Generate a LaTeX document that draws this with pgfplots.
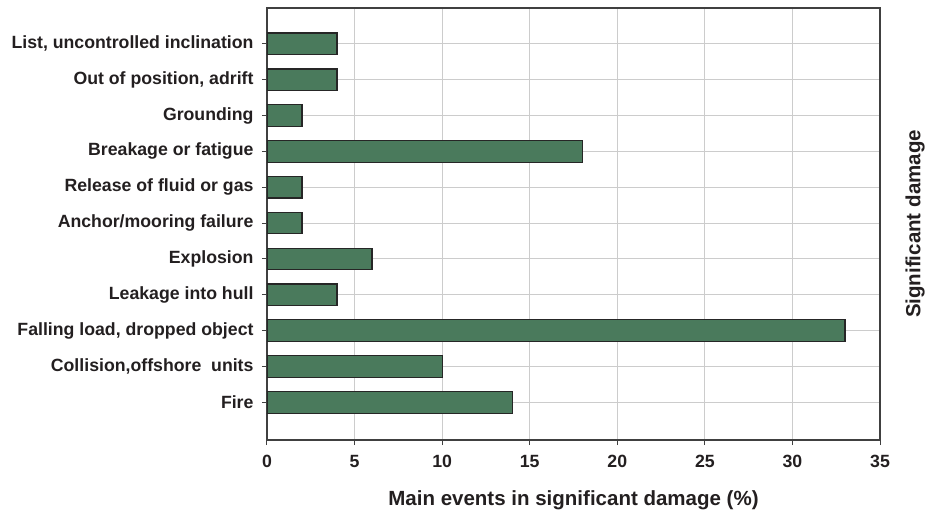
\documentclass[border=0pt]{standalone}
\usepackage{pgfplots}
\pgfplotsset{compat=1.18}
\usepackage{fontspec}
\setmainfont{Liberation Sans}
\definecolor{barfill}{HTML}{4A7A5C}
\definecolor{txt}{HTML}{231F20}
\definecolor{gridc}{HTML}{CCCCCC}
\definecolor{axc}{HTML}{404040}
\begin{document}
\begin{tikzpicture}[x=1pt,y=1pt]
\begin{axis}[
  scale only axis,
  width=613pt, height=432pt,
  xbar, bar width=0.6,
  xmin=0, xmax=35,
  ymin=-1.05, ymax=11,
  xtick={0,5,...,35},
  ytick={0,...,10},
  yticklabels={Fire,{Collision,offshore\ \ units},{Falling load, dropped object},Leakage into hull,Explosion,Anchor/mooring failure,Release of fluid or gas,Breakage or fatigue,Grounding,{Out of position, adrift},{List, uncontrolled inclination}},
  xmajorgrids, ymajorgrids,
  grid style={gridc, line width=1pt},
  axis line style={axc, line width=1.2pt},
  tick style={axc, line width=1pt},
  tick align=outside,
  major tick length=5pt,
  xtick pos=bottom, ytick pos=left,
  /pgf/number format/assume math mode=true,
  ticklabel style={font=\fontsize{17.7}{20}\selectfont\bfseries, text=txt},
  xticklabel style={yshift=-7pt},
  yticklabel style={xshift=-5pt},
  xlabel={Main events in significant damage (\%)},
  xlabel style={font=\fontsize{20.5}{24}\selectfont\bfseries, text=txt, yshift=-16pt},
]
\addplot[fill=barfill, draw=black!85, line width=1.2pt] coordinates {
  (14,0) (10,1) (33,2) (4,3) (6,4) (2,5) (2,6) (18,7) (2,8) (4,9) (4,10)
};
\coordinate (sw) at (rel axis cs:0,0);
\coordinate (re) at (rel axis cs:1,0.5);
\end{axis}
\node[rotate=90, font=\fontsize{20.5}{24}\selectfont\bfseries, text=txt] at ([xshift=35pt]re) {Significant damage};
\path (sw) ++(-267pt,-76pt) rectangle ++(928pt,516pt);
\end{tikzpicture}
\end{document}
